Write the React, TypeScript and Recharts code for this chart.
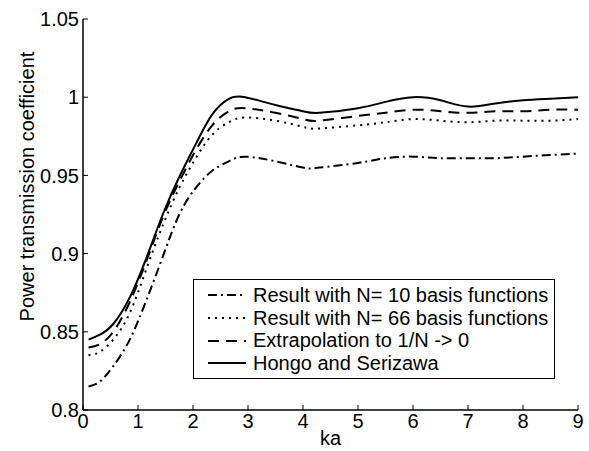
import { LineChart, Line, XAxis, YAxis } from 'recharts';

const ka = [0.1, 0.3, 0.55, 0.85, 1.15, 1.45, 1.75, 2.05, 2.35, 2.65, 2.95, 3.5, 4, 4.3, 5, 5.5, 6, 6.5, 7, 7.5, 8, 8.5, 9];
const n10 = [0.815, 0.818, 0.828, 0.845, 0.87, 0.898, 0.925, 0.942, 0.953, 0.959, 0.962, 0.959, 0.955, 0.955, 0.958, 0.961, 0.962, 0.961, 0.961, 0.961, 0.962, 0.963, 0.964];
const n66 = [0.835, 0.837, 0.845, 0.862, 0.89, 0.918, 0.942, 0.961, 0.976, 0.984, 0.987, 0.985, 0.981, 0.98, 0.982, 0.984, 0.986, 0.985, 0.984, 0.985, 0.985, 0.985, 0.986];
const extrap = [0.84, 0.842, 0.85, 0.869, 0.895, 0.923, 0.946, 0.966, 0.982, 0.991, 0.993, 0.99, 0.986, 0.985, 0.988, 0.99, 0.992, 0.991, 0.99, 0.991, 0.991, 0.992, 0.992];
const hongo = [0.845, 0.848, 0.855, 0.872, 0.897, 0.925, 0.949, 0.97, 0.989, 0.999, 1.0, 0.995, 0.991, 0.99, 0.993, 0.997, 1.0, 0.998, 0.994, 0.996, 0.998, 0.999, 1.0];

const xTicks = [0, 1, 2, 3, 4, 5, 6, 7, 8, 9];
const yTicks = [0.8, 0.85, 0.9, 0.95, 1, 1.05];

const series = [
  { key: 'n10', name: 'Result with N= 10 basis functions', dash: '9 4 2 4' },
  { key: 'n66', name: 'Result with N= 66 basis functions', dash: '2 5' },
  { key: 'extrap', name: 'Extrapolation to 1/N -> 0', dash: '11 7' },
  { key: 'hongo', name: 'Hongo and Serizawa', dash: undefined },
];

const data = ka.map((k, i) => ({ ka: k, n10: n10[i], n66: n66[i], extrap: extrap[i], hongo: hongo[i] }));

const font = '"Liberation Sans", Arial, sans-serif';
const tickStyle = { fill: '#000', fontSize: 20, fontFamily: font };

function LegendBox() {
  return (
    <div
      style={{
        position: 'absolute', left: 193, top: 279, width: 362, height: 100,
        border: '1.5px solid #000', background: '#fff', fontFamily: font, fontSize: 20,
        boxSizing: 'border-box', paddingTop: 4,
      }}
    >
      {series.map((s) => (
        <div key={s.key} style={{ display: 'flex', alignItems: 'center', height: 22.7 }}>
          <svg width={59} height={10} style={{ flex: 'none' }}>
            <line x1={14} y1={5} x2={52} y2={5} stroke="#000" strokeWidth={2} strokeDasharray={s.dash} />
          </svg>
          <span style={{ whiteSpace: 'nowrap' }}>{s.name}</span>
        </div>
      ))}
    </div>
  );
}

export default function App() {
  return (
    <div style={{ position: 'absolute', left: 0, top: 0, width: 589, height: 451, background: '#fff' }}>
      <LineChart width={589} height={451} data={data} margin={{ top: 19, right: 11, bottom: 0, left: 0 }}>
        <XAxis
          dataKey="ka" type="number" domain={[0, 9]} ticks={xTicks} allowDataOverflow
          height={41} tickSize={-5} tickMargin={9} tick={tickStyle}
          axisLine={{ stroke: '#000', strokeWidth: 1.5 }} tickLine={{ stroke: '#000' }}
          label={{ value: 'ka', position: 'insideBottom', offset: 6, fill: '#000', fontSize: 20, fontFamily: font }}
        />
        <XAxis
          xAxisId="top" orientation="top" dataKey="ka" type="number" domain={[0, 9]} ticks={xTicks} allowDataOverflow
          height={0} tickSize={-5} tick={false}
          axisLine={{ stroke: '#000', strokeWidth: 1.5 }} tickLine={{ stroke: '#000' }}
        />
        <YAxis
          type="number" domain={[0.8, 1.05]} ticks={yTicks} allowDataOverflow
          width={83} tickSize={-5} tickMargin={9} tick={tickStyle}
          axisLine={{ stroke: '#000', strokeWidth: 1.5 }} tickLine={{ stroke: '#000' }}
          label={{ value: 'Power transmission coefficient', angle: -90, position: 'center', dx: -15, dy: -28, fill: '#000', fontSize: 20, fontFamily: font }}
        />
        <YAxis
          yAxisId="right" orientation="right" type="number" domain={[0.8, 1.05]} ticks={yTicks} allowDataOverflow
          width={0} tickSize={-5} tick={false}
          axisLine={{ stroke: '#000', strokeWidth: 1.5 }} tickLine={{ stroke: '#000' }}
        />
        {series.map((s) => (
          <Line
            key={s.key} dataKey={s.key} name={s.name} type="natural" stroke="#000" strokeWidth={2}
            strokeDasharray={s.dash} dot={false} isAnimationActive={false}
          />
        ))}
      </LineChart>
      <LegendBox />
    </div>
  );
}
